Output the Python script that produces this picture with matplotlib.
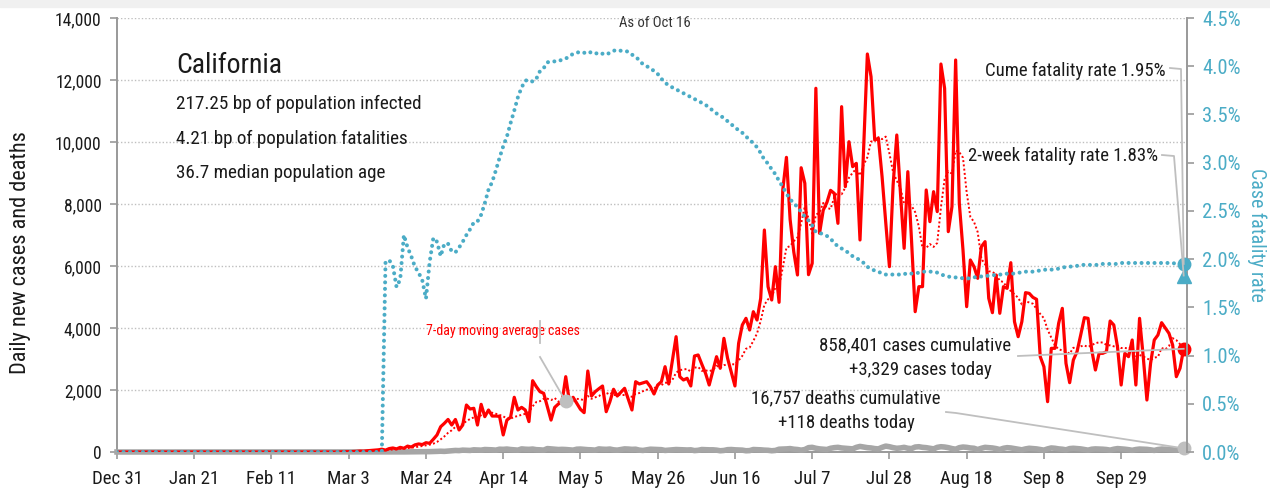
import numpy as np
import pandas as pd
import matplotlib
matplotlib.use('Agg')
import matplotlib.pyplot as plt
import matplotlib.dates as mdates
from matplotlib.lines import Line2D
from matplotlib.patches import Rectangle
from matplotlib.ticker import FuncFormatter, FixedLocator

plt.rcParams['font.family'] = ['Roboto Condensed', 'Archivo Narrow', 'PT Sans Narrow',
                               'Pragati Narrow', 'Liberation Sans Narrow', 'DejaVu Sans']

# ---------------- data ----------------
start_date = '2019-12-31'
end_date = '2020-10-16'

# daily new cases, Mar 1 .. Oct 16 (before Mar 1 zero)
cases_from_mar1 = [
    5, 10, 10, 15, 20, 30, 25, 40, 50, 60,
    70, 90, 60, 110, 130, 100, 150, 120, 190, 160,
    230, 260, 240, 300, 280, 410, 550, 816, 925, 1050,
    870, 1050, 710, 870, 1516, 1387, 1410, 870, 1538, 1140,
    1355, 1160, 1160, 1150, 550, 1030, 1120, 1765, 1355, 1440,
    1355, 980, 2300, 2107, 1945, 1893, 1460, 1030, 1440, 1550,
    1623, 2430, 1623, 1765, 1570, 1377, 1268, 2613, 1806, 1945,
    2040, 2129, 1300, 1623, 2023, 1806, 1930, 2055, 1700, 1355,
    2268, 2194, 2230, 2268, 2107, 1871, 2161, 2268, 2752, 2194,
    2950, 3720, 2430, 2323, 2377, 2130, 3097, 3130, 2830, 2540,
    2161, 2620, 3075, 2700, 3667, 3022, 2580, 2130, 3506, 4097,
    4312, 3935, 4526, 4258, 4958, 7161, 5333, 4903, 5978, 4828,
    8452, 9505, 7500, 6450, 5710, 9170, 8667, 5720, 6086, 11732,
    7054, 7800, 8050, 8440, 8344, 7376, 11140, 8559, 10010, 9204,
    9312, 6839, 9800, 12839, 12107, 10065, 10119, 8881, 7400, 5978,
    8613, 10226, 8344, 6570, 9043, 6839, 4526, 5333, 5333, 8452,
    7430, 8398, 7753, 12516, 11732, 7108, 7914, 12645, 8022, 6516,
    4688, 6194, 5978, 5602, 6624, 6785, 4958, 4494, 5710, 4474,
    5333, 5280, 6107, 4204, 3720, 4204, 5140, 5118, 4989, 4925,
    3075, 2752, 1623, 3344, 3344, 4150, 4634, 2860, 2236, 2968,
    3236, 3774, 4333, 4312, 3290, 2645, 3183, 3183, 3236, 4226,
    4097, 3398, 2161, 3183, 3075, 3613, 2161, 4312, 3075, 1677,
    2860, 3613, 3774, 4172, 4000, 3828, 3452, 2430, 2700, 3329,
]

# daily new deaths, Mar 1 .. Oct 16
deaths_from_mar1 = [
    0, 0, 0, 1, 0, 0, 0, 0, 1, 0,
    1, 0, 1, 1, 2, 2, 3, 3, 5, 4,
    6, 8, 10, 10, 12, 15, 20, 25, 20, 30,
    40, 50, 45, 60, 55, 50, 70, 65, 60, 80,
    75, 70, 60, 90, 85, 95, 80, 70, 60, 100,
    90, 85, 95, 75, 70, 60, 110, 100, 90, 80,
    85, 80, 70, 60, 90, 95, 85, 75, 70, 60,
    100, 90, 85, 95, 70, 60, 80, 100, 95, 85,
    90, 60, 50, 70, 90, 85, 80, 75, 50, 60,
    70, 80, 75, 70, 65, 70, 45, 55, 80, 75,
    70, 70, 60, 40, 50, 75, 80, 70, 65, 60,
    40, 45, 80, 75, 70, 60, 55, 40, 50, 90,
    95, 100, 110, 90, 80, 60, 80, 140, 150, 120,
    100, 90, 80, 120, 140, 150, 130, 120, 110, 100,
    150, 180, 160, 140, 130, 110, 100, 150, 190, 170,
    140, 120, 130, 150, 120, 110, 160, 170, 150, 140,
    120, 100, 150, 170, 160, 140, 110, 90, 140, 160,
    150, 130, 120, 80, 120, 150, 140, 130, 110, 80,
    120, 140, 130, 110, 90, 70, 100, 120, 110, 100,
    80, 60, 100, 130, 120, 100, 90, 70, 110, 120,
    110, 100, 80, 60, 90, 100, 95, 90, 80, 60,
    90, 110, 100, 90, 75, 55, 80, 95, 90, 85,
    70, 50, 80, 95, 90, 80, 70, 60, 90, 118,
]

# cumulative case fatality rate (%), Mar 13 .. Oct 16 (zero before)
cfr_from_mar13 = [
    1.97, 1.99, 1.93, 1.71, 1.79, 2.25, 2.12, 2.03,
    1.92, 1.86, 1.78, 1.59, 1.97, 2.22, 2.18, 2.03, 2.16, 2.16,
    2.08, 2.07, 2.12, 2.18, 2.25, 2.31, 2.38, 2.39, 2.46, 2.58,
    2.72, 2.80, 2.92, 3.05, 3.17, 3.27, 3.41, 3.54, 3.68, 3.78,
    3.85, 3.86, 3.84, 3.87, 3.95, 3.98, 4.04, 4.05, 4.05, 4.05,
    4.07, 4.08, 4.10, 4.13, 4.14, 4.15, 4.14, 4.13, 4.15, 4.14,
    4.12, 4.13, 4.12, 4.14, 4.16, 4.17, 4.16, 4.16, 4.15, 4.12,
    4.10, 4.06, 4.02, 4.00, 3.98, 3.95, 3.92, 3.87, 3.83, 3.80,
    3.78, 3.76, 3.74, 3.72, 3.70, 3.68, 3.66, 3.64, 3.62, 3.60,
    3.57, 3.54, 3.51, 3.49, 3.46, 3.43, 3.40, 3.36, 3.34, 3.31,
    3.27, 3.24, 3.20, 3.16, 3.10, 3.03, 2.99, 2.93, 2.88, 2.81,
    2.75, 2.68, 2.62, 2.58, 2.54, 2.49, 2.44, 2.40, 2.35, 2.28,
    2.27, 2.26, 2.24, 2.21, 2.17, 2.13, 2.11, 2.09, 2.06, 2.03,
    2.01, 1.99, 1.96, 1.92, 1.90, 1.88, 1.87, 1.85, 1.84, 1.84,
    1.84, 1.84, 1.84, 1.85, 1.84, 1.85, 1.85, 1.86, 1.87, 1.87,
    1.87, 1.87, 1.86, 1.84, 1.83, 1.82, 1.81, 1.81, 1.81, 1.80,
    1.80, 1.80, 1.81, 1.82, 1.82, 1.82, 1.83, 1.83, 1.84, 1.84,
    1.84, 1.85, 1.85, 1.85, 1.86, 1.86, 1.87, 1.87, 1.87, 1.88,
    1.88, 1.89, 1.89, 1.89, 1.90, 1.90, 1.91, 1.92, 1.92, 1.93,
    1.93, 1.94, 1.94, 1.94, 1.94, 1.94, 1.94, 1.95, 1.95, 1.95,
    1.95, 1.95, 1.96, 1.96, 1.96, 1.96, 1.96, 1.96, 1.96, 1.96,
    1.96, 1.96, 1.96, 1.96, 1.96, 1.96, 1.96, 1.95, 1.95, 1.95,
]

state = 'California'
stats_lines = ['217.25 bp of population infected',
               '4.21 bp of population fatalities',
               '36.7 median population age']
as_of = 'As of Oct 16'
cume_rate = 1.95
two_week_rate = 1.83
cases_cum = 858401
cases_today = 3329
deaths_cum = 16757
deaths_today = 118
xtick_labels = ['Dec 31', 'Jan 21', 'Feb 11', 'Mar 3', 'Mar 24', 'Apr 14', 'May 5',
                'May 26', 'Jun 16', 'Jul 7', 'Jul 28', 'Aug 18', 'Sep 8', 'Sep 29']

# ---------------- build series ----------------
dates = pd.date_range(start_date, end_date, freq='D')
n = len(dates)
cases = np.zeros(n)
cases[n - len(cases_from_mar1):] = cases_from_mar1
deaths = np.zeros(n)
deaths[n - len(deaths_from_mar1):] = deaths_from_mar1
cfr = np.zeros(n)
cfr[n - len(cfr_from_mar13):] = np.array(cfr_from_mar13) / 100.0
ma7 = pd.Series(cases).rolling(7, min_periods=1).mean().values

RED = '#ff0000'
TEAL = '#4bacc6'
GRAY = '#a6a6a6'
LGRAY = '#bfbfbf'
TXT = '#1a1a1a'

W, H = 1270, 491
fig = plt.figure(figsize=(W / 100, H / 100), dpi=100)
renderer = fig.canvas.get_renderer()


def fit(s, target_w, base=14.0):
    t = fig.text(0, 0, s, fontsize=base)
    w = t.get_window_extent(renderer).width
    t.remove()
    return base * target_w / w


fig.patches.append(Rectangle((0, 1 - 7 / H), 1, 7 / H, transform=fig.transFigure,
                             color='#f0f0f0', zorder=0))
ax = fig.add_axes([117 / W, 1 - 452 / H, 1070 / W, 434 / H])
ax2 = ax.twinx()


def px(x, y):
    return x / W, 1 - y / H


# lines
ax.plot(dates, deaths, color=GRAY, lw=4.0, zorder=3, solid_joinstyle='round',
        clip_on=False)
ax.plot(dates, cases, color=RED, lw=2.3, zorder=4, solid_joinstyle='round')
ax.plot(dates, ma7, color=RED, lw=1.4, ls=(0, (1, 1.2)), zorder=5)
ax2.plot(dates, cfr, color=TEAL, lw=2.9, ls=(0, (0.01, 1.6)),
         dash_capstyle='round', zorder=3)

x0 = mdates.date2num(dates[0])
x1 = mdates.date2num(dates[-1]) + 0.9
ax.set_xlim(x0, x1)
ax.set_ylim(0, 14000)
ax2.set_ylim(0, 0.045)

# markers
last = dates[-1]
ax.plot([last], [cases_today], 'o', color=RED, ms=9, clip_on=False, zorder=6)
ax.plot([last], [deaths_today], 'o', color=LGRAY, ms=9, clip_on=False, zorder=6)
ax2.plot([last], [cume_rate / 100], 'o', color=TEAL, ms=9, clip_on=False, zorder=6)
ax2.plot([last], [two_week_rate / 100], '^', color=TEAL, ms=10, clip_on=False, zorder=6)
ma_idx = 122
ax.plot([dates[ma_idx]], [ma7[ma_idx]], 'o', color=LGRAY, ms=9, zorder=6)

# axes styling
ax.set_yticks(np.arange(0, 14001, 2000))
ax.yaxis.set_major_formatter(FuncFormatter(lambda v, p: f'{int(v):,}'))
ax2.set_yticks(np.arange(0, 0.0451, 0.005))
ax2.yaxis.set_major_formatter(FuncFormatter(lambda v, p: f'{v * 100:.1f}%'))
ticks = pd.date_range(start_date, periods=len(xtick_labels), freq='21D')
ax.xaxis.set_major_locator(FixedLocator(mdates.date2num(ticks)))
ax.set_xticklabels(xtick_labels)

for a in (ax, ax2):
    a.spines['top'].set_visible(False)
    for s in ('left', 'right', 'bottom'):
        a.spines[s].set_color('#999999')
        a.spines[s].set_linewidth(1.4)
ax.spines['right'].set_visible(False)
ax2.spines['left'].set_visible(False)
ax2.spines['bottom'].set_visible(False)

ax.grid(axis='y', color='#bfbfbf', ls=(0, (1, 1.5)), lw=1.0)
ax.set_axisbelow(True)

fs_ytick = fit('14,000', 47)
fs_xtick = fit('Sep 29', 51)
fs_rtick = fit('4.0%', 39)
ax.tick_params(axis='y', direction='out', length=5, color='#999999', width=1.2,
               labelsize=fs_ytick, labelcolor=TXT, pad=6)
ax.tick_params(axis='x', direction='out', length=5, color='#999999', width=1.2,
               labelsize=fs_xtick, labelcolor=TXT, pad=8)
ax2.tick_params(axis='y', direction='out', length=5, color='#999999', width=1.2,
                labelsize=fs_rtick, labelcolor=TEAL, pad=6)

ax.set_ylabel('Daily new cases and deaths', fontsize=fit('Daily new cases and deaths', 245),
              color=TXT)
ax.yaxis.set_label_coords(-0.080, 0.46)
ax2.set_ylabel('Case fatality rate', fontsize=fit('Case fatality rate', 134),
               color=TEAL, rotation=270, va='center')
ax2.yaxis.set_label_coords(1.0654, 0.5)

# texts
fig.text(*px(176, 73), state, fontsize=fit(state, 107), color=TXT,
         ha='left', va='baseline')
fs_stats = fit(stats_lines[0], 248)
for i, line in enumerate(stats_lines):
    fig.text(*px(176, 109 + i * 34.5), line, fontsize=fs_stats, color=TXT,
             ha='left', va='baseline')
fig.text(*px(655, 27), as_of, fontsize=fit(as_of, 72), color='#333333',
         ha='center', va='baseline')

fs_ann = fit(f'{cases_cum:,} cases cumulative', 194)
fig.text(*px(1166, 76), f'Cume fatality rate {cume_rate:.2f}%', fontsize=fs_ann,
         color=TXT, ha='right', va='baseline')
fig.text(*px(1158, 161), f'2-week fatality rate {two_week_rate:.2f}%', fontsize=fs_ann,
         color=TXT, ha='right', va='baseline')
fig.text(*px(915, 350), f'{cases_cum:,} cases cumulative', fontsize=fs_ann,
         color=TXT, ha='center', va='baseline')
fig.text(*px(920, 375), f'+{cases_today:,} cases today', fontsize=fs_ann,
         color=TXT, ha='center', va='baseline')
fig.text(*px(846, 403), f'{deaths_cum:,} deaths cumulative', fontsize=fs_ann,
         color=TXT, ha='center', va='baseline')
fig.text(*px(846, 428), f'+{deaths_today} deaths today', fontsize=fs_ann,
         color=TXT, ha='center', va='baseline')
fig.text(*px(426, 335), '7-day moving average cases',
         fontsize=fit('7-day moving average cases', 156), color=RED,
         ha='left', va='baseline')

# connector lines (figure coords, ending at data markers)
fig.canvas.draw()
inv = fig.transFigure.inverted()


def dpt(a, x, y):
    return inv.transform(a.transData.transform((mdates.date2num(x), y)))


def poly(points):
    xs = [p[0] for p in points]
    ys = [p[1] for p in points]
    fig.add_artist(Line2D(xs, ys, transform=fig.transFigure, color=LGRAY, lw=1.3,
                          zorder=5))


poly([px(1170, 68), px(1181, 69), dpt(ax2, last, cume_rate / 100)])
poly([px(1162, 155), px(1174, 156), dpt(ax2, last, two_week_rate / 100)])
poly([px(1018, 356), dpt(ax, last, cases_today)])
poly([px(946, 412), px(956, 413), dpt(ax, last, deaths_today)])
poly([px(540, 321), px(540, 343)])
poly([px(540, 357), dpt(ax, dates[ma_idx], ma7[ma_idx])])

fig.savefig('out.png', dpi=100)
